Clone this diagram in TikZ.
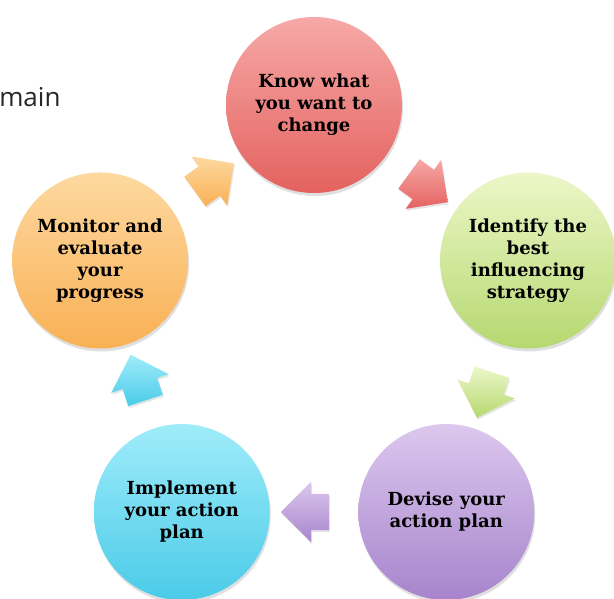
\documentclass[tikz,border=0pt]{standalone}
\usepackage{fontspec}
\setmainfont{DejaVu Serif}
\newfontfamily\sidefont{Open Sans}
\usepackage{tikz}
\usetikzlibrary{shapes,arrows,positioning,calc,shadows,shapes.arrows}

\definecolor{knowtop}{HTML}{F6A9A7}
\definecolor{knowbot}{HTML}{E4625F}
\definecolor{identtop}{HTML}{ECF7C8}
\definecolor{identbot}{HTML}{B6D870}
\definecolor{devisetop}{HTML}{DCC8EE}
\definecolor{devisebot}{HTML}{A784CC}
\definecolor{impltop}{HTML}{A0ECFA}
\definecolor{implbot}{HTML}{4ACBE8}
\definecolor{montop}{HTML}{FDD9A0}
\definecolor{monbot}{HTML}{F9B054}

\tikzset{
    bubble/.style={circle, minimum size=176pt, inner sep=0pt, align=center,
        font=\bfseries\fontsize{18}{22}\selectfont,
        drop shadow={opacity=0.25, shadow xshift=1pt, shadow yshift=-3pt}},
    turn/.style={single arrow, minimum height=48pt,
        single arrow head extend=12pt, inner sep=0pt,
        drop shadow={opacity=0.2, shadow xshift=1pt, shadow yshift=-2pt}},
}
\newcommand{\shaft}{\vrule width 0pt height 18pt depth 18pt}

\begin{document}
\begin{tikzpicture}[x=1pt, y=1pt]
    \useasboundingbox (0,0) rectangle (614,598);
    \fill [white] (0,0) rectangle (614,598);
    \coordinate (hub) at (314,268);

    % side label
    \node [anchor=base east, font=\sidefont\fontsize{26}{30}\selectfont, text=black!85] (side) at (64,491) {main};

    % cycle steps
    \node [bubble, top color=knowtop, bottom color=knowbot] (know) at ($(hub)+(90:225)$) {Know what\\you want to\\change};
    \node [bubble, top color=identtop, bottom color=identbot] (ident) at ($(hub)+(18:225)$) {Identify the\\best\\influencing\\strategy};
    \node [bubble, top color=devisetop, bottom color=devisebot] (devise) at ($(hub)+(-54:225)$) {Devise your\\action plan};
    \node [bubble, top color=impltop, bottom color=implbot] (impl) at ($(hub)+(-126:225)$) {Implement\\your action\\plan};
    \node [bubble, top color=montop, bottom color=monbot] (monitor) at ($(hub)+(162:225)$) {Monitor and\\evaluate\\your\\progress};

    % turning arrows
    \node [turn, rotate=36, top color=montop, bottom color=monbot] (turnA) at ($(monitor)!0.5!(know)$) {\shaft};
    \node [turn, rotate=-36, top color=knowtop, bottom color=knowbot] (turnB) at ($(know)!0.5!(ident)$) {\shaft};
    \node [turn, rotate=-108, top color=identtop, bottom color=identbot] (turnC) at ($(ident)!0.5!(devise)$) {\shaft};
    \node [turn, rotate=180, top color=devisetop, bottom color=devisebot] (turnD) at ($(devise)!0.5!(impl)$) {\shaft};
    \node [turn, rotate=108, top color=impltop, bottom color=implbot] (turnE) at ($(impl)!0.5!(monitor)$) {\shaft};
\end{tikzpicture}
\end{document}
